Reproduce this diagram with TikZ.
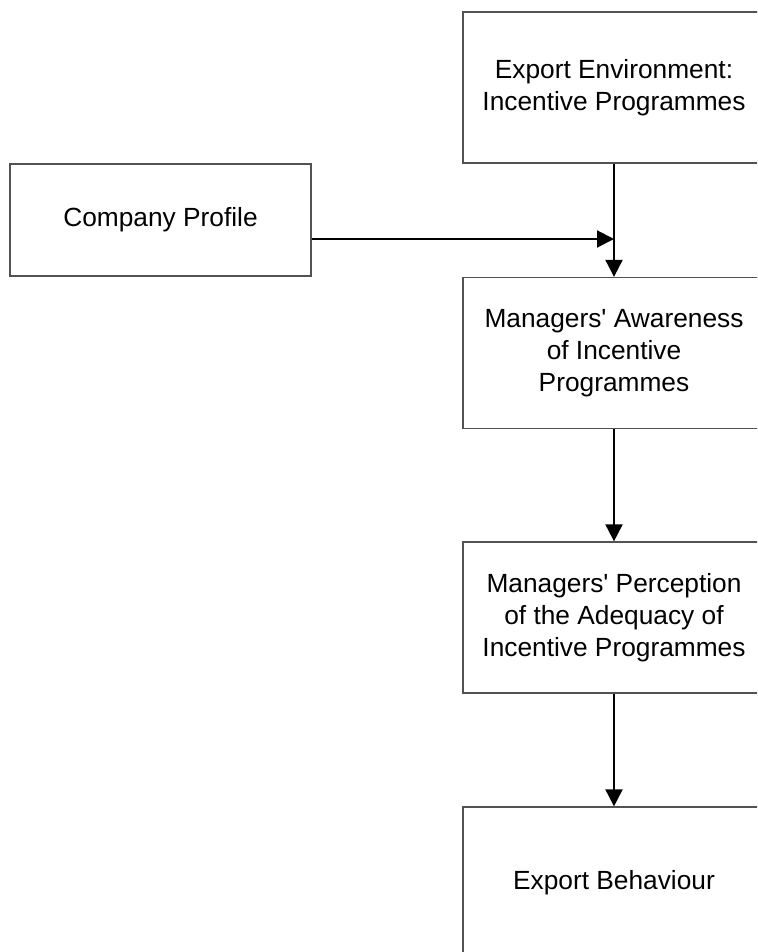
\documentclass[tikz,border=0pt]{standalone}
\usepackage{fontspec}
\setmainfont{Liberation Sans}
\usetikzlibrary{arrows.meta}

\tikzset{
  box/.style={draw=black!68, line width=1.3pt, fill=white, align=center,
    inner sep=0pt, minimum width=302pt, minimum height=151pt,
    font=\fontsize{26.3}{31.7}\selectfont},
  flow/.style={draw=black, line width=2pt,
    -{Triangle[width=17pt,length=17pt]}}
}

\begin{document}
\begin{tikzpicture}[x=1pt, y=-1pt]
  \useasboundingbox (0,0) rectangle (757,952);
  \clip (0,0) rectangle (757,952);

  % main column of stages
  \node[box] (env)    at (614,87.5)  {Export Environment:\\Incentive Programmes};
  \node[box] (aware)  at (614,353)   {Managers\textquotesingle{} Awareness\\of Incentive\\Programmes};
  \node[box] (percep) at (614,617.5) {Managers\textquotesingle{} Perception\\of the Adequacy of\\Incentive Programmes};
  \node[box] (behav)  at (614,882.5) {Export Behaviour};

  % side input
  \node[box, minimum width=301pt, minimum height=112pt] (comp) at (160.5,220) {Company Profile};

  % connectors
  \coordinate (join) at (614,239);
  \draw[flow] (comp.east |- join) -- (join);
  \draw[flow] (env.south) -- (aware.north);
  \draw[flow] (aware.south) -- (percep.north);
  \draw[flow] (percep.south) -- (behav.north);
\end{tikzpicture}
\end{document}
